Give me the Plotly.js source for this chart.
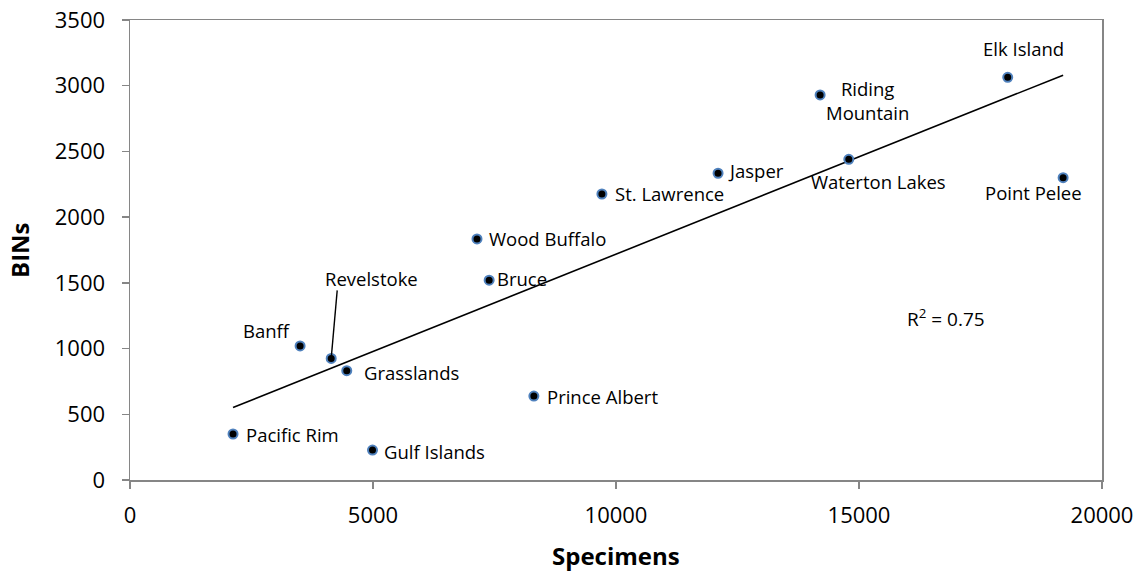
<!DOCTYPE html>
<html>
<head>
<meta charset="utf-8">
<script src="https://cdn.plot.ly/plotly-3.0.1.min.js"></script>
<style>html,body{margin:0;padding:0;background:#fff;}#chart{width:1143px;height:573px;}</style>
</head>
<body>
<div id="chart"></div>
<script>
// Data
const parks = ["Pacific Rim","Banff","Revelstoke","Grasslands","Gulf Islands","Prince Albert","Bruce","Wood Buffalo","St. Lawrence","Jasper","Riding Mountain","Waterton Lakes","Elk Island","Point Pelee"];
const specimens = [2120, 3500, 4140, 4460, 4990, 8310, 7390, 7140, 9710, 12100, 14200, 14790, 18060, 19200];
const bins = [350, 1020, 925, 832, 228, 639, 1520, 1834, 2176, 2334, 2930, 2440, 3064, 2300];
const labelText = ["Pacific Rim","Banff","Revelstoke","Grasslands","Gulf Islands","Prince Albert","Bruce","Wood Buffalo","St. Lawrence","Jasper","Riding<br>Mountain","Waterton Lakes","Elk Island","Point Pelee"];
const r2Text = "R<sup>2</sup> = 0.75";
const xTitle = "Specimens";
const yTitle = "BINs";
const xTicks = [0, 5000, 10000, 15000, 20000];
const yTicks = [0, 500, 1000, 1500, 2000, 2500, 3000, 3500];

// Label placement (pixel offsets from each point)
const labelStyle = {
  "Pacific Rim":    {xa:"left",   xs:11,  ys:0},
  "Banff":          {xa:"right",  xs:-7,  ys:15},
  "Revelstoke":     {xa:"center", xs:40,  ys:80},
  "Grasslands":     {xa:"left",   xs:15,  ys:-2},
  "Gulf Islands":   {xa:"left",   xs:9,   ys:-1},
  "Prince Albert":  {xa:"left",   xs:11,  ys:0},
  "Bruce":          {xa:"left",   xs:6,   ys:2},
  "Wood Buffalo":   {xa:"left",   xs:10,  ys:0},
  "St. Lawrence":   {xa:"left",   xs:11,  ys:1},
  "Jasper":         {xa:"left",   xs:8,   ys:3},
  "Riding Mountain":{xa:"center", xs:47,  ys:-6},
  "Waterton Lakes": {xa:"center", xs:30,  ys:-22},
  "Elk Island":     {xa:"center", xs:16,  ys:29},
  "Point Pelee":    {xa:"center", xs:-30, ys:-15}
};

// Least-squares trend line from the data
const n = specimens.length;
const mx = specimens.reduce((a,b)=>a+b,0)/n;
const my = bins.reduce((a,b)=>a+b,0)/n;
let sxy=0, sxx=0;
for (let i=0;i<n;i++){ sxy += (specimens[i]-mx)*(bins[i]-my); sxx += (specimens[i]-mx)**2; }
const slope = sxy/sxx, intercept = my - slope*mx;
const xMin = Math.min(...specimens), xMax = Math.max(...specimens);
const trendX = [xMin, xMax];
const trendY = trendX.map(x => intercept + slope*x);

const FONT = "Open Sans, sans-serif";
const AX = "#868686";

const traces = [
  {x: trendX, y: trendY, mode: "lines", line: {color: "#000", width: 1.6}, hoverinfo: "skip", showlegend: false},
  {x: specimens, y: bins, mode: "markers", text: parks,
   marker: {size: 9, color: "#000", line: {color: "#4F81BD", width: 2}}, showlegend: false}
];

const annotations = parks.map((p, i) => {
  const s = labelStyle[p];
  return {x: specimens[i], y: bins[i], xref: "x", yref: "y", text: labelText[i], showarrow: false,
          xanchor: s.xa, yanchor: "middle", xshift: s.xs, yshift: s.ys,
          font: {family: FONT, size: 18.5, color: "#000"}};
});
// R squared
annotations.push({x: 16800, y: 1235, xref: "x", yref: "y", text: r2Text, showarrow: false,
  xanchor: "center", yanchor: "middle", font: {family: FONT, size: 19, color: "#000"}});
// axis titles
annotations.push({x: 0.5, y: -0.165, xref: "paper", yref: "paper", text: "<b>" + xTitle + "</b>", showarrow: false,
  xanchor: "center", yanchor: "middle", font: {family: FONT, size: 24, color: "#000"}});
annotations.push({x: -0.1142, y: 0.5, xref: "paper", yref: "paper", text: "<b>" + yTitle + "</b>", showarrow: false,
  textangle: -90, xanchor: "center", yanchor: "middle", font: {family: FONT, size: 24, color: "#000"}});

// leader line for Revelstoke (anchored at the data point, pixel offsets)
const ri = parks.indexOf("Revelstoke");
const shapes = [{type: "line", xref: "x", yref: "y", xsizemode: "pixel", ysizemode: "pixel",
  xanchor: specimens[ri], yanchor: bins[ri], x0: 0, y0: 0, x1: 6, y1: 68,
  line: {color: "#000", width: 1.4}}];

const axisCommon = {
  showgrid: false, zeroline: false, showline: true, linecolor: AX, linewidth: 1.5, mirror: true,
  ticks: "outside", ticklen: 7, tickcolor: AX, tickwidth: 1.5,
  tickfont: {family: FONT, size: 22, color: "#000"}
};

const layout = {
  width: 1143, height: 573,
  margin: {l: 130, r: 41, t: 20, b: 93},
  paper_bgcolor: "#fff", plot_bgcolor: "#fff",
  xaxis: Object.assign({}, axisCommon, {
    range: [0, 20000], tickvals: xTicks, ticktext: xTicks.map(String), ticklabelstandoff: 8
  }),
  yaxis: Object.assign({}, axisCommon, {
    range: [0, 3500], tickvals: yTicks, ticktext: yTicks.map(String), ticklabelstandoff: 12
  }),
  annotations: annotations,
  shapes: shapes,
  showlegend: false
};

Plotly.newPlot("chart", traces, layout, {displayModeBar: false, staticPlot: true});
</script>
</body>
</html>
